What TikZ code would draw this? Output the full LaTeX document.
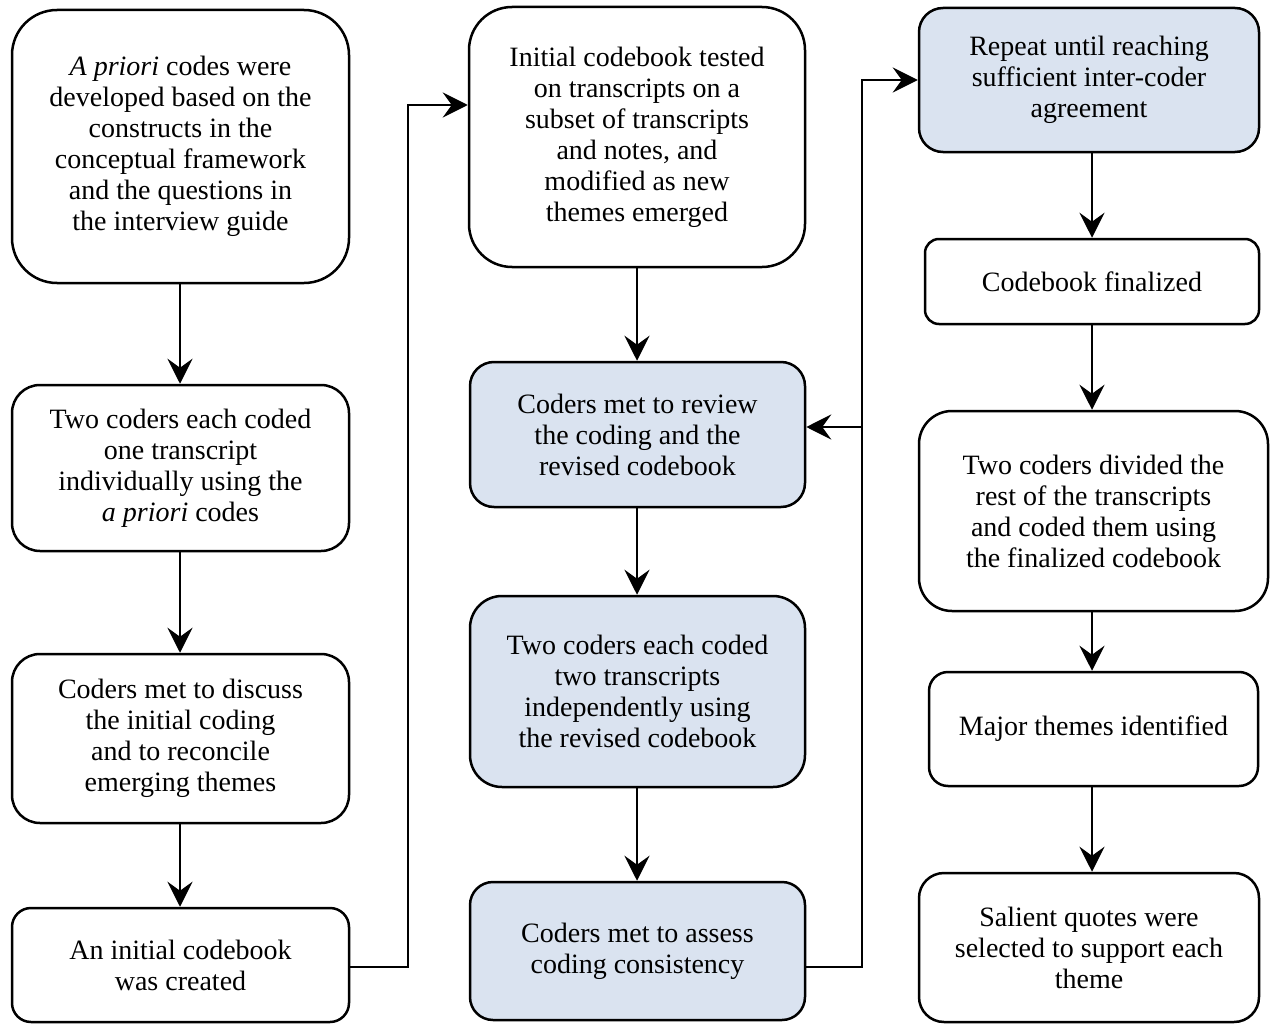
\documentclass[tikz,border=0pt]{standalone}
\usepackage{fontspec}
\setmainfont{Liberation Serif}
\usetikzlibrary{arrows.meta}
\definecolor{paleblue}{HTML}{DAE3F0}
\tikzset{
  box/.style={draw=black, line width=2.5pt, fill=white, align=center,
    inner sep=0pt, font=\fontsize{28}{31}\selectfont},
  shaded/.style={box, fill=paleblue},
  sz/.style n args={3}{minimum width=#1pt, minimum height=#2pt, rounded corners=#3pt},
  arr/.style={line width=2.5pt, -{Stealth[length=25pt,width=25pt,inset=9pt]}}
}
\begin{document}
\begin{tikzpicture}[x=1pt,y=-1pt]
\useasboundingbox (0,0) rectangle (1270,1025);

% left column
\node[box, sz={337}{273}{45}] (b1) at (180.5,146.5)
  {\textit{A priori} codes were\\developed based on the\\constructs in the\\conceptual framework\\and the questions in\\the interview guide};
\node[box, sz={337}{166}{28}] (b2) at (180.5,468)
  {Two coders each coded\\one transcript\\individually using the\\\textit{a priori} codes};
\node[box, sz={337}{169}{28}] (b3) at (180.5,738.5)
  {Coders met to discuss\\the initial coding\\and to reconcile\\emerging themes};
\node[box, sz={337}{114}{19}] (b4) at (180.5,965)
  {An initial codebook\\was created};

% middle column
\node[box, sz={336}{260}{43}] (m1) at (637,137)
  {Initial codebook tested\\on transcripts on a\\subset of transcripts\\and notes, and\\modified as new\\themes emerged};
\node[shaded, sz={335}{145}{24}] (m2) at (637.5,434.5)
  {Coders met to review\\the coding and the\\revised codebook};
\node[shaded, sz={335}{191}{32}] (m3) at (637.5,691.5)
  {Two coders each coded\\two transcripts\\independently using\\the revised codebook};
\node[shaded, sz={335}{138}{23}] (m4) at (637.5,951)
  {Coders met to assess\\coding consistency};

% right column
\node[shaded, sz={340}{144}{24}] (r1) at (1089,80)
  {Repeat until reaching\\sufficient inter-coder\\agreement};
\node[box, sz={334}{85}{14}] (r2) at (1092,281.5)
  {Codebook finalized};
\node[box, sz={349}{200}{33}] (r3) at (1093.5,511)
  {Two coders divided the\\rest of the transcripts\\and coded them using\\the finalized codebook};
\node[box, sz={329}{114}{19}] (r4) at (1093.5,729)
  {Major themes identified};
\node[box, sz={340}{149}{25}] (r5) at (1089,947.5)
  {Salient quotes were\\selected to support each\\theme};

% column axes and elbow points
\coordinate (colL) at (180,0);
\coordinate (colM) at (637,0);
\coordinate (colR) at (1092,0);
\coordinate (j1) at (408,105);
\coordinate (j2) at (862,967);
\coordinate (lowlink) at (0,967);
\coordinate (fb) at (0,427);

% vertical flow
\draw[arr] (b1.south -| colL) -- (b2.north -| colL);
\draw[arr] (b2.south -| colL) -- (b3.north -| colL);
\draw[arr] (b3.south -| colL) -- (b4.north -| colL);
\draw[arr] (m1.south -| colM) -- (m2.north -| colM);
\draw[arr] (m2.south -| colM) -- (m3.north -| colM);
\draw[arr] (m3.south -| colM) -- (m4.north -| colM);
\draw[arr] (r1.south -| colR) -- (r2.north -| colR);
\draw[arr] (r2.south -| colR) -- (r3.north -| colR);
\draw[arr] (r3.south -| colR) -- (r4.north -| colR);
\draw[arr] (r4.south -| colR) -- (r5.north -| colR);

% column-to-column links
\draw[arr] (b4.east |- lowlink) -| (j1) -- (j1 -| m1.west);
\draw[arr] (m4.east |- j2) -- (j2) |- (r1.west);
\draw[arr] (j2 |- fb) -- (m2.east |- fb);
\end{tikzpicture}
\end{document}
